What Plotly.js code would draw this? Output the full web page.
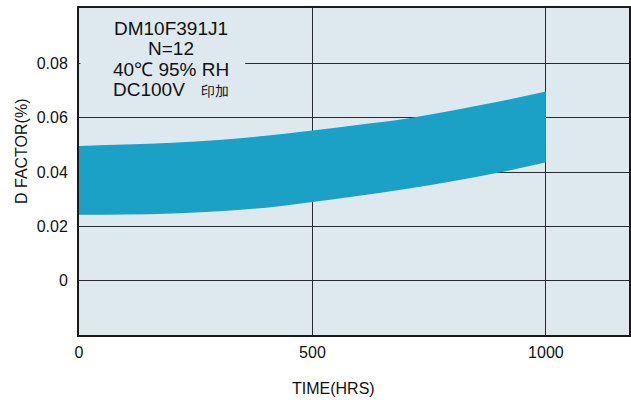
<!DOCTYPE html>
<html>
<head>
<meta charset="utf-8">
<script src="https://cdn.plot.ly/plotly-3.0.1.min.js"></script>
<style>html,body{margin:0;padding:0;background:#fff;}#chart{width:631px;height:400px;}</style>
</head>
<body>
<div id="chart"></div>
<script>
const hours = [0, 100, 200, 300, 400, 500, 600, 700, 800, 900, 1000];
const dfUpper = [0.0496, 0.0501, 0.0508, 0.0518, 0.0533, 0.0553, 0.0574, 0.0596, 0.0626, 0.0659, 0.0696];
const dfLower = [0.0243, 0.0244, 0.0248, 0.0256, 0.0269, 0.0290, 0.0313, 0.0338, 0.0366, 0.0398, 0.0436];
const xTicks = [0, 500, 1000];
const xTickText = ['0', '500', '1000'];
const yTicks = [0, 0.02, 0.04, 0.06, 0.08];
const yTickText = ['0', '0.02', '0.04', '0.06', '0.08'];
const noteLines = ['DM10F391J1', 'N=12', '40℃ 95% RH', 'DC100V&nbsp;&nbsp;&nbsp;<span style="font-size:14px">印加</span>'];
const noteY = [0.0927, 0.0853, 0.0777, 0.0702];

const bandColor = '#1ba0c6';
const bg = '#dde9ee';
const font = 'Liberation Sans, Arial, sans-serif';

const traces = [
  {x: hours, y: dfLower, type: 'scatter', mode: 'lines', line: {width: 0, shape: 'spline', smoothing: 1, color: bandColor}, hoverinfo: 'skip', showlegend: false},
  {x: hours, y: dfUpper, type: 'scatter', mode: 'lines', fill: 'tonexty', fillcolor: bandColor, line: {width: 0, shape: 'spline', smoothing: 1, color: bandColor}, hoverinfo: 'skip', showlegend: false}
];

const annotations = noteLines.map((t, i) => ({
  text: t, xref: 'x', yref: 'y', x: 197, y: noteY[i], showarrow: false,
  xanchor: 'center', yanchor: 'middle', font: {family: font, size: 19, color: '#111'}
}));
annotations.push({text: 'TIME(HRS)', xref: 'paper', yref: 'paper', x: (333 - 79) / 550, y: -0.163, showarrow: false, xanchor: 'center', yanchor: 'middle', font: {family: font, size: 16, color: '#111'}});
annotations.push({text: 'D FACTOR(%)', xref: 'paper', yref: 'paper', x: (21.5 - 79) / 550, y: (335 - 151.5) / 327, textangle: -90, showarrow: false, xanchor: 'center', yanchor: 'middle', font: {family: font, size: 16, color: '#111'}});

const layout = {
  width: 631, height: 400,
  margin: {l: 79, r: 2, t: 8, b: 65},
  paper_bgcolor: '#ffffff', plot_bgcolor: bg,
  font: {family: font, size: 16, color: '#111'},
  showlegend: false,
  xaxis: {
    range: [0, 1178], tickvals: xTicks, ticktext: xTickText, showgrid: true, gridcolor: '#2a2a2a', gridwidth: 1,
    zeroline: false, showline: true, linecolor: '#1a1a1a', linewidth: 2, mirror: true, ticks: '', ticklabelstandoff: 2,
    tickfont: {family: font, size: 16, color: '#111'}
  },
  yaxis: {
    range: [-0.0199, 0.1003], tickvals: yTicks, ticktext: yTickText, showgrid: true, gridcolor: '#2a2a2a', gridwidth: 1,
    zeroline: false, showline: true, linecolor: '#1a1a1a', linewidth: 2, mirror: true, ticks: '', ticklabelstandoff: 6,
    tickfont: {family: font, size: 16, color: '#111'}
  },
  shapes: [
    {type: 'rect', layer: 'between', xref: 'x', yref: 'y', x0: 3, x1: 356, y0: 0.074, y1: 0.086, fillcolor: bg, line: {width: 0}}
  ],
  annotations: annotations
};

Plotly.newPlot('chart', traces, layout, {displayModeBar: false, staticPlot: true});
</script>
</body>
</html>
